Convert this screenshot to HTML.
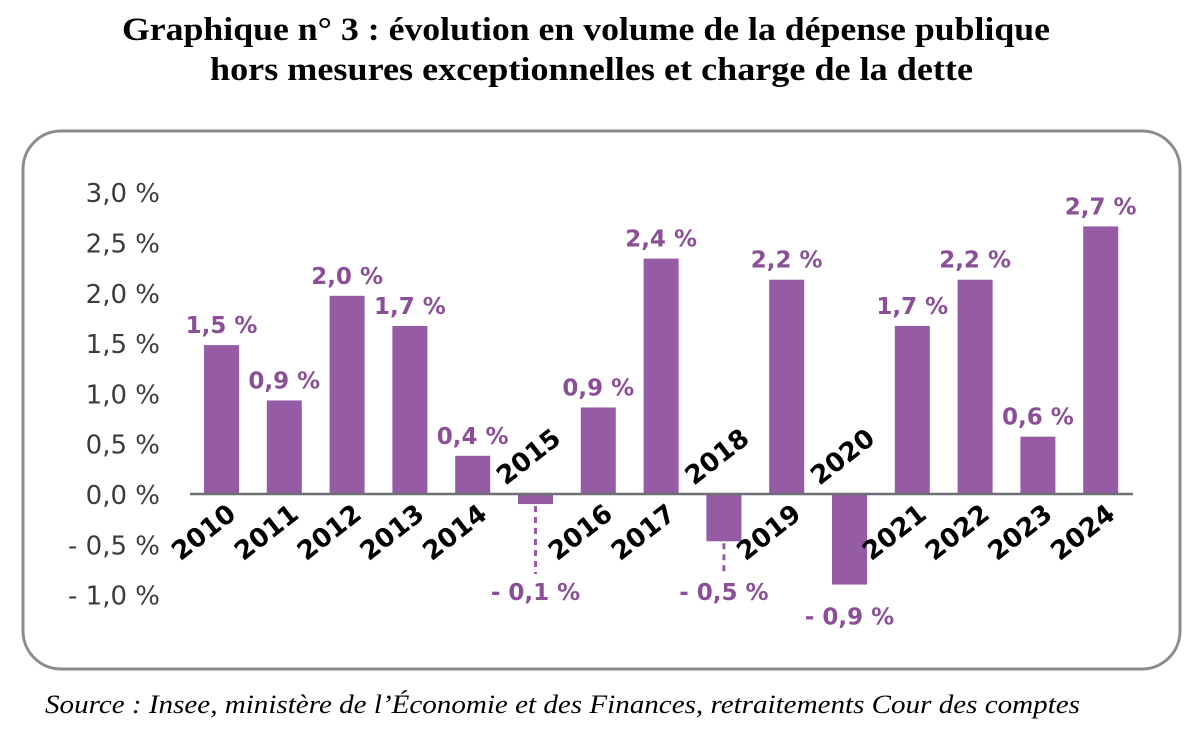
<!DOCTYPE html>
<html><head><meta charset="utf-8">
<style>
body{margin:0;background:#fff;width:1200px;height:729px;overflow:hidden;}
svg{display:block}
</style></head>
<body>
<svg width="1200" height="729" viewBox="0 0 1200 729">
<text x="122" y="40" textLength="928" lengthAdjust="spacingAndGlyphs" font-family="Liberation Serif, serif" font-weight="bold" font-size="33" fill="#000">Graphique n° 3 : évolution en volume de la dépense publique</text>
<text x="210" y="80" textLength="763" lengthAdjust="spacingAndGlyphs" font-family="Liberation Serif, serif" font-weight="bold" font-size="33" fill="#000">hors mesures exceptionnelles et charge de la dette</text>
<rect x="23" y="131" width="1157" height="538" rx="38" ry="38" fill="none" stroke="#8c8c8c" stroke-width="3"/>
<g id="yaxis"></g>
<g id="bars"></g>
<line x1="190" y1="494" x2="1133" y2="494" stroke="#6d6f72" stroke-width="2.5"/>
<g id="labels"></g>
<text x="45" y="713" textLength="1035" lengthAdjust="spacingAndGlyphs" font-family="Liberation Serif, serif" font-style="italic" font-size="26" fill="#000">Source : Insee, ministère de l’Économie et des Finances, retraitements Cour des comptes</text>
</svg>
<script>
const years=['2010','2011','2012','2013','2014','2015','2016','2017','2018','2019','2020','2021','2022','2023','2024'];
const values=[1.48,0.93,1.97,1.67,0.38,-0.1,0.86,2.34,-0.47,2.13,-0.9,1.67,2.13,0.57,2.66];
const valueLabels=['1,5 %','0,9 %','2,0 %','1,7 %','0,4 %','- 0,1 %','0,9 %','2,4 %','- 0,5 %','2,2 %','- 0,9 %','1,7 %','2,2 %','0,6 %','2,7 %'];
const yTicks=[3,2.5,2,1.5,1,0.5,0,-0.5,-1];
const yTickLabels=['3,0 %','2,5 %','2,0 %','1,5 %','1,0 %','0,5 %','0,0 %','- 0,5 %','- 1,0 %'];
const NS='http://www.w3.org/2000/svg';
const y=v=>494-v*100.6;
const x=i=>221.5+i*62.8;
function mk(tag,attrs,parent,text){const e=document.createElementNS(NS,tag);for(const k in attrs)e.setAttribute(k,attrs[k]);if(text!==undefined)e.textContent=text;parent.appendChild(e);return e;}
const ya=document.getElementById('yaxis'),bg=document.getElementById('bars'),lg=document.getElementById('labels');
yTicks.forEach((t,i)=>{
  const e=mk('text',{x:160,y:y(t)+10,'text-anchor':'end','font-family':'DejaVu Sans, Liberation Sans, sans-serif','font-size':'26',fill:'#3c3c3c'},ya,yTickLabels[i]);
  
  
});
const W=35;
values.forEach((v,i)=>{
  const cx=x(i);
  const top=Math.min(y(v),y(0)),h=Math.abs(y(v)-y(0));
  const r=mk('rect',{x:cx-W/2,y:top,width:W,height:h,fill:'#955ba5'},bg);
  
  
  let ly;
  if(v>=0){ly=y(v)-12;}else{ly=Math.max(y(v)+40,600);}
  if(v<0 && ly-y(v)>50){
    const d=mk('line',{x1:cx,y1:y(v)+2,x2:cx,y2:ly-26,stroke:'#955ba5','stroke-width':3,'stroke-dasharray':'6,5'},lg);
    
    
  }
  const t=mk('text',{x:cx,y:ly,'text-anchor':'middle','font-family':'DejaVu Sans, Liberation Sans, sans-serif','font-weight':'bold','font-size':'23',fill:'#8a4f96'},lg,valueLabels[i]);
  
  
  let yl;
  if(v>=0){
    yl=mk('text',{x:0,y:0,'text-anchor':'end','font-family':'DejaVu Sans, Liberation Sans, sans-serif','font-weight':'bold','font-size':'26',fill:'#000',transform:`translate(${cx+16},${517}) rotate(-38)`},lg,years[i]);
  }else{
    yl=mk('text',{x:0,y:0,'text-anchor':'start','font-family':'DejaVu Sans, Liberation Sans, sans-serif','font-weight':'bold','font-size':'26',fill:'#000',transform:`translate(${cx-30},${486}) rotate(-38)`},lg,years[i]);
  }
  
  
});
</script>
</body></html>
